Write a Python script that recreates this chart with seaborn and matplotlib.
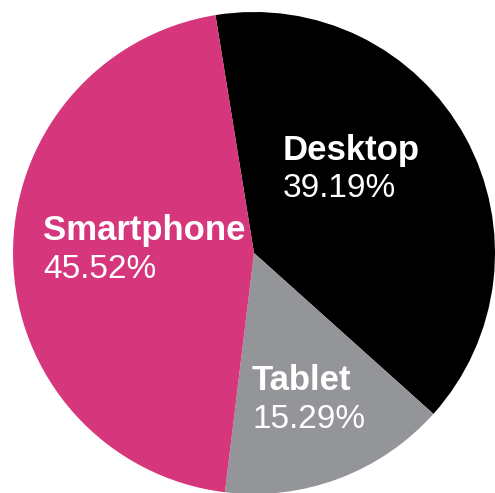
import matplotlib
matplotlib.use("Agg")
import matplotlib.pyplot as plt
import seaborn as sns

categories = ["Desktop", "Tablet", "Smartphone"]
shares = [39.19, 15.29, 45.52]
colors = ["#000000", "#939598", "#d6367c"]

sns.set_theme(style="white")
plt.rcParams["font.family"] = ["Liberation Sans", "DejaVu Sans"]

fig = plt.figure(figsize=(4.95, 4.93), dpi=100)
ax = fig.add_axes([13/495, -1/493, 482/495, 482/493])
ax.pie(shares, colors=colors, startangle=99.2, counterclock=False,
       radius=1.0, wedgeprops=dict(linewidth=0))
ax.set_xlim(-1, 1)
ax.set_ylim(-1, 1)
ax.set_aspect("equal")
ax.axis("off")

label_pos = {"Desktop": (0.120, 0.386, 0.232),
             "Smartphone": (-0.876, 0.054, -0.104),
             "Tablet": (-0.008, -0.568, -0.726)}
for cat, val in zip(categories, shares):
    x, y1, y2 = label_pos[cat]
    ax.text(x, y1, cat, color="white", fontsize=25, fontweight="bold",
            ha="left", va="baseline")
    ax.text(x, y2, f"{val:.2f}%", color="white", fontsize=24,
            ha="left", va="baseline")

fig.savefig("out.png", dpi=100)
